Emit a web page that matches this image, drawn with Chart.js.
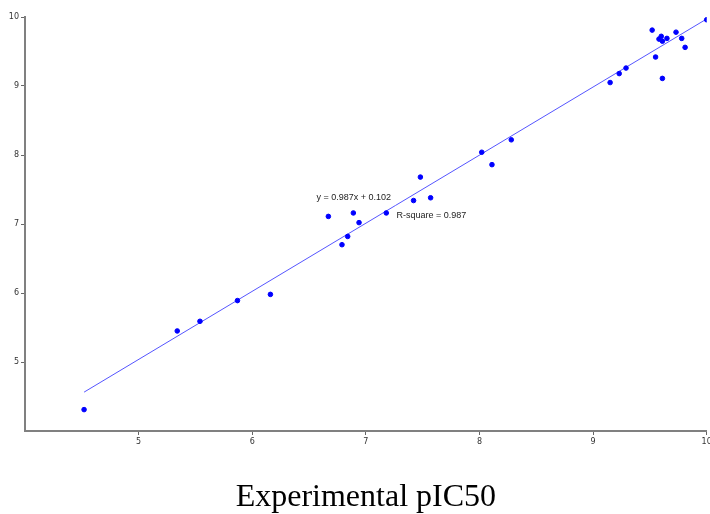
<!DOCTYPE html>
<html>
<head>
<meta charset="utf-8">
<script src="https://cdn.jsdelivr.net/npm/chart.js@4/dist/chart.umd.min.js"></script>
<style>
  html, body { margin: 0; padding: 0; background: #fff; }
  #wrap { width: 710px; height: 514px; }
</style>
</head>
<body>
<div id="wrap"><canvas id="chart" width="710" height="514"></canvas></div>
<script>
// experimental vs predicted pIC50
const experimental = [4.52, 5.34, 5.54, 5.87, 6.16, 6.67, 6.79, 6.84, 6.89, 6.94, 7.18, 7.42, 7.48, 7.57,
    8.02, 8.11, 8.28, 9.15, 9.23, 9.29, 9.52, 9.55, 9.58, 9.60, 9.61, 9.61, 9.65, 9.73, 9.78, 9.81, 10.0]
const predicted = [4.31, 5.45, 5.59, 5.89, 5.98, 7.11, 6.70, 6.82, 7.16, 7.02, 7.16, 7.34, 7.68, 7.38,
    8.04, 7.86, 8.22, 9.05, 9.18, 9.26, 9.81, 9.42, 9.68, 9.72, 9.65, 9.11, 9.69, 9.78, 9.69, 9.56, 9.96]

// regression line
const slope = 0.987
const intercept = 0.102
const fitX = [4.52, 10.0]

const axisMin = 4
const axisMax = 10
const tickStep = 1

const equationLabel = 'y = 0.987x + 0.102'
const rSquareLabel = 'R-square = 0.987'

const fitLine = fitX.map(x => ({ x: x, y: slope * x + intercept }))
const points = experimental.map((x, i) => ({ x: x, y: predicted[i] }))

const annotations = {
    id: 'annotations',
    afterDatasetsDraw(chart) {
        const { ctx, scales } = chart
        ctx.save()
        ctx.font = '9px "Liberation Sans", Arial, sans-serif'
        ctx.fillStyle = '#222'
        ctx.textBaseline = 'middle'
        ctx.textAlign = 'left'
        ctx.fillText(equationLabel, scales.x.getPixelForValue(6.566), scales.y.getPixelForValue(7.38))
        ctx.fillText(rSquareLabel, scales.x.getPixelForValue(7.269), scales.y.getPixelForValue(7.12))
        ctx.restore()
    }
}

const dropFirstTick = (scale) => {
    scale.ticks = scale.ticks.filter(t => t.value !== axisMin)
}

const tickFont = { family: '"DejaVu Sans", sans-serif', size: 8 }

const config = {
    type: 'scatter',
    data: {
        datasets: [
            {
                label: 'Compounds',
                data: points,
                backgroundColor: '#0000ff',
                borderColor: '#0000ff',
                pointRadius: 2.3,
                pointHoverRadius: 2.3,
            },
            {
                type: 'line',
                label: 'Fit',
                data: fitLine,
                borderColor: '#5555ff',
                borderWidth: 1,
                pointRadius: 0,
                fill: false,
            }
        ]
    },
    options: {
        responsive: false,
        animation: false,
        layout: { padding: { top: 17, right: -2, left: 0, bottom: 0 } },
        plugins: {
            legend: { display: false },
            tooltip: { enabled: false },
        },
        scales: {
            x: {
                type: 'linear',
                min: axisMin,
                max: axisMax,
                afterBuildTicks: dropFirstTick,
                afterFit: (s) => { s.height = 83; s.paddingRight = 0; s.paddingLeft = 0 },
                ticks: { stepSize: tickStep, color: '#333', font: tickFont, padding: 2, maxRotation: 0 },
                grid: { display: true, drawOnChartArea: false, tickLength: 4, color: '#666', tickWidth: 1 },
                border: { display: true, color: '#808080', width: 2 },
                title: {
                    display: true,
                    text: 'Experimental pIC50',
                    color: '#000',
                    font: { family: '"Liberation Serif", "Times New Roman", serif', size: 32, lineHeight: 1 },
                    padding: { top: 2, bottom: 0 },
                },
            },
            y: {
                type: 'linear',
                min: axisMin,
                max: axisMax,
                afterBuildTicks: dropFirstTick,
                afterFit: (s) => { s.width = 25; s.paddingTop = 0; s.paddingBottom = 0 },
                ticks: { stepSize: tickStep, color: '#333', font: tickFont, padding: 2 },
                grid: { display: true, drawOnChartArea: false, tickLength: 4, color: '#666', tickWidth: 1 },
                border: { display: true, color: '#808080', width: 2 },
            }
        }
    },
    plugins: [annotations]
}

new Chart(document.getElementById('chart').getContext('2d'), config)
</script>
</body>
</html>
